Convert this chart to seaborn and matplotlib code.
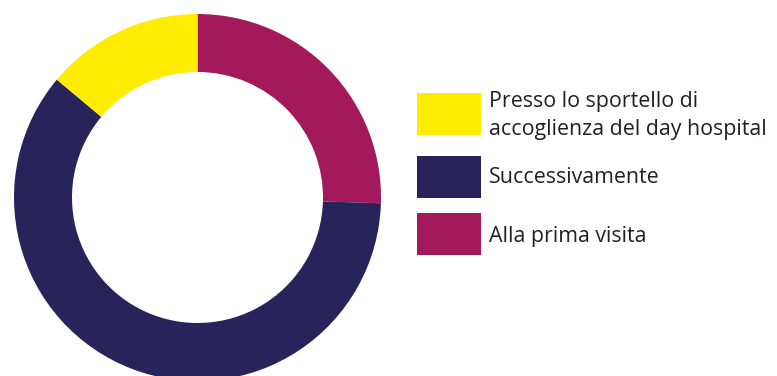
import matplotlib
matplotlib.use("Agg")
import matplotlib.pyplot as plt
from matplotlib.patches import Rectangle
import seaborn as sns

# Share of responses for each moment (percent)
categories = ["Presso lo sportello di\naccoglienza del day hospital", "Successivamente", "Alla prima visita"]
values = [13.9, 60.6, 25.5]
colors = ["#FFEC00", "#29235C", "#A3195B"]

sns.set_theme(style="white")
plt.rcParams["font.family"] = ["Open Sans", "DejaVu Sans"]

W, H = 777, 376
fig = plt.figure(figsize=(W / 100, H / 100), dpi=100)

# Donut: centre (197.5, 197.5) px from top-left, outer radius 183.5 px
cx, cy, r = 197.5, 197.5, 183.5
ax = fig.add_axes([(cx - r) / W, (H - cy - r) / H, 2 * r / W, 2 * r / H])

# Wedges drawn clockwise from 12 o'clock: Alla prima visita, Successivamente, Presso...
order = [2, 1, 0]
ax.pie([values[i] for i in order], colors=[colors[i] for i in order],
       startangle=90, counterclock=False,
       wedgeprops=dict(width=58 / 183.5, linewidth=0, antialiased=True))
ax.set_xlim(-1, 1)
ax.set_ylim(-1, 1)
ax.set_axis_off()

# Legend
sw_x, sw_w, sw_h = 417, 64, 42
sw_tops = [93, 156, 213]
baselines = [[107.5, 134.5], [183], [242]]
text_x = 489
for i, cat in enumerate(categories):
    fig.patches.append(Rectangle((sw_x / W, (H - sw_tops[i] - sw_h) / H), sw_w / W, sw_h / H,
                                 transform=fig.transFigure, facecolor=colors[i],
                                 edgecolor="none"))
    for line, b in zip(cat.split("\n"), baselines[i]):
        fig.text(text_x / W, (H - b) / H, line, ha="left", va="baseline",
                 fontsize=15.4, color="#231F20")

fig.savefig("out.png", dpi=100)
